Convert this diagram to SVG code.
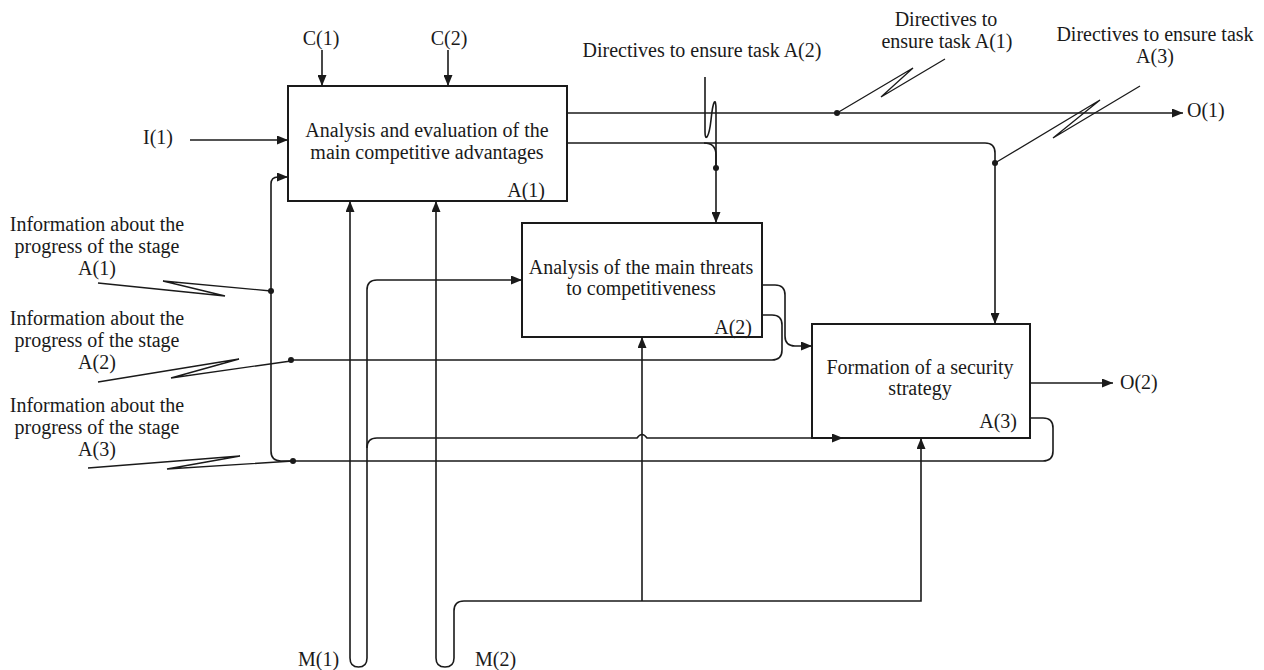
<svg xmlns="http://www.w3.org/2000/svg" width="1264" height="670" viewBox="0 0 1264 670">
<style>
text{font-family:"Liberation Serif","Times New Roman",serif;font-size:20px;fill:#1a1a1a}
.c{text-anchor:middle}
.r{text-anchor:end}
.box{fill:#fff;stroke:#1a1a1a;stroke-width:2}
.ln{fill:none;stroke:#1a1a1a;stroke-width:1.6}
.sq{fill:none;stroke:#1a1a1a;stroke-width:1.3}
.ar{marker-end:url(#arr)}
.dot{fill:#1a1a1a}
</style>
<defs>
<marker id="arr" markerUnits="userSpaceOnUse" markerWidth="11" markerHeight="9" refX="11" refY="4.5" orient="auto">
<path d="M0,0 L11,4.5 L0,9 z" fill="#1a1a1a"/>
</marker>
</defs>
<rect width="1264" height="670" fill="#fff"/>

<g id="node-A1">
<rect class="box" x="288" y="86" width="279" height="115"/>
<text class="c" x="427" y="137">Analysis and evaluation of the</text>
<text class="c" x="427" y="159">main competitive advantages</text>
<text class="r" x="545" y="197">A(1)</text>
</g>
<g id="node-A2">
<rect class="box" x="522" y="223" width="240" height="114"/>
<text class="c" x="641" y="274">Analysis of the main threats</text>
<text class="c" x="641" y="295">to competitiveness</text>
<text class="r" x="752" y="334">A(2)</text>
</g>
<g id="node-A3">
<rect class="box" x="812" y="324" width="218" height="114"/>
<text class="c" x="920" y="374">Formation of a security</text>
<text class="c" x="920" y="395">strategy</text>
<text class="r" x="1017" y="428">A(3)</text>
</g>

<g id="connectors">
<path class="ln ar" d="M322,50 L322,86"/>
<path class="ln ar" d="M448,50 L448,86"/>
<path class="ln ar" d="M190,140 L288,140"/>
<path class="ln ar" d="M567,113 L1183,113"/>
<path class="ln ar" d="M567,143 L985,143 Q995,143 995,153 L995,324"/>
<path class="ln ar" d="M704,143 Q716,143 716,155 L716,223"/>
<path class="ln" d="M705,77 L705,132 C705,142 709,138 711,120 C713,100 716,96 716,110 L716,168"/>
<path class="sq" d="M837,113 L913,68 L881,97 L945,59"/>
<path class="sq" d="M995,163 L1100,100 L1053,138 L1140,86"/>
<path class="ln ar" d="M367,658 Q367,667 358.5,667 Q350,667 350,658 L350,201"/>
<path class="ln ar" d="M367,658 L367,290 Q367,280 377,280 L522,280"/>
<path class="ln ar" d="M367,448 Q367,438 377,438 L637,438 Q642,431 647,438 L843,438"/>
<path class="ln ar" d="M454,658 Q454,667 445,667 Q436,667 436,658 L436,201"/>
<path class="ln ar" d="M454,658 L454,611 Q454,601 464,601 L921,601 L921,438"/>
<path class="ln ar" d="M642,601 L642,337"/>
<path class="ln ar" d="M762,285 L775,285 Q785,285 785,295 L785,336 Q785,346 795,346 L812,346"/>
<path class="ln" d="M762,315 L772,315 Q782,315 782,325 L782,350 Q782,360 772,360 L291,360"/>
<path class="ln ar" d="M1030,383 L1113,383"/>
<path class="ln ar" d="M1030,418 L1043,418 Q1053,418 1053,428 L1053,451 Q1053,461 1043,461 L281,461 Q271,461 271,451 L271,184 Q271,177 278,177 L288,177"/>
<path class="sq" d="M98,283 L225,296 L163,281 L271,291"/>
<path class="sq" d="M98,382 L239,359 L171,378 L291,361"/>
<path class="sq" d="M88,468 L240,456 L167,469 L293,461"/>
<circle class="dot" cx="716" cy="168" r="3"/>
<circle class="dot" cx="837" cy="113" r="3"/>
<circle class="dot" cx="995" cy="163" r="3"/>
<circle class="dot" cx="271" cy="291" r="3"/>
<circle class="dot" cx="291" cy="360" r="3"/>
<circle class="dot" cx="293" cy="461" r="3"/>
</g>

<g id="labels">
<text class="c" x="321" y="45">C(1)</text>
<text class="c" x="449" y="45">C(2)</text>
<text class="c" x="158" y="144">I(1)</text>
<text x="1187" y="117">O(1)</text>
<text x="1120" y="389">O(2)</text>
<text x="298" y="666">M(1)</text>
<text x="475" y="666">M(2)</text>
<text class="c" x="702" y="57">Directives to ensure task A(2)</text>
<text class="c" x="946" y="26">Directives to</text>
<text class="c" x="947" y="48">ensure task A(1)</text>
<text class="c" x="1155" y="41">Directives to ensure task</text>
<text class="c" x="1155" y="63">A(3)</text>
<text class="c" x="97" y="231">Information about the</text>
<text class="c" x="97" y="253">progress of the stage</text>
<text class="c" x="97" y="275">A(1)</text>
<text class="c" x="97" y="325">Information about the</text>
<text class="c" x="97" y="347">progress of the stage</text>
<text class="c" x="97" y="369">A(2)</text>
<text class="c" x="97" y="412">Information about the</text>
<text class="c" x="97" y="434">progress of the stage</text>
<text class="c" x="97" y="456">A(3)</text>
</g>
</svg>
